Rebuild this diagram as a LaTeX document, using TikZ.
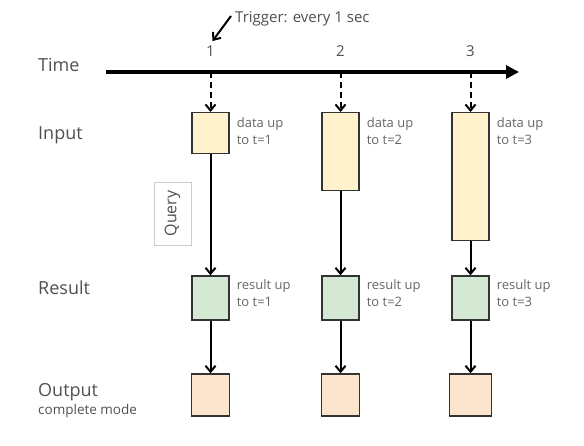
\documentclass[tikz,border=0pt]{standalone}
\usepackage{fontspec}
\setmainfont{Open Sans}
\usetikzlibrary{positioning,arrows.meta}
\definecolor{labelgray}{HTML}{505050}
\definecolor{notegray}{HTML}{666666}
\definecolor{boxline}{HTML}{333333}
\definecolor{inputfill}{HTML}{FFF2CC}
\definecolor{resultfill}{HTML}{D5E8D4}
\definecolor{outputfill}{HTML}{FCE5CD}
\tikzset{
 rowlabel/.style={font=\fontsize{18}{20}\selectfont, text=labelgray, inner sep=0pt},
 sublabel/.style={font=\fontsize{13.5}{16}\selectfont, text=labelgray, inner sep=0pt},
 ticklabel/.style={font=\fontsize{15}{18}\selectfont, text=labelgray, inner sep=0pt},
 note/.style={font=\fontsize{13}{17}\selectfont, text=notegray, align=left, inner sep=0pt},
 % boxes: only the height of the input boxes changes
 inbox/.style={draw=boxline, fill=inputfill, line width=1.4pt, minimum width=37pt, inner sep=0pt},
 resbox/.style={draw=boxline, fill=resultfill, line width=1.4pt, minimum width=37pt, minimum height=44pt, inner sep=0pt},
 outbox/.style={draw=boxline, fill=outputfill, line width=1.4pt, minimum width=38pt, minimum height=42pt, inner sep=0pt},
 querybox/.style={draw=black!20, fill=white, line width=0.9pt, rotate=90, minimum width=63pt, minimum height=37pt, font=\fontsize{16}{18}\selectfont, text=labelgray},
 axis/.style={line width=3.2pt, -{Triangle[length=13pt,width=13pt]}},
 flow/.style={line width=2pt, -{Straight Barb[length=6pt,width=10pt]}},
 trigflow/.style={flow, dash pattern=on 6pt off 4pt}
}

\begin{document}
\begin{tikzpicture}[x=1pt, y=1pt]
 \useasboundingbox (0, 0) rectangle (584, -446);

 % time axis
 \coordinate (axisstart) at (106, -72);
 \coordinate (axisend) at (519, -72);
 \draw [axis] (axisstart) -- (axisend);
 \coordinate (tick1) at (210.5, -72);
 \coordinate (tick2) at (340.5, -72);
 \coordinate (tick3) at (470.5, -72);
 \node [ticklabel, anchor=base] (num1) at (210.5, -57) {1};
 \node [ticklabel, anchor=base] (num2) at (340.5, -57) {2};
 \node [ticklabel, anchor=base] (num3) at (470.5, -57) {3};
 \node [ticklabel, anchor=base west] (trigger) at (235, -23) {Trigger: every 1 sec};
 \coordinate (trigstart) at (231, -16);
 \coordinate (trigtip) at (212.5, -41);
 \draw [flow] (trigstart) -- (trigtip);

 % row labels
 \node [rowlabel, anchor=base west] (time) at (38, -72) {Time};
 \node [rowlabel, anchor=base west] (input) at (38, -140) {Input};
 \node [rowlabel, anchor=base west] (result) at (38, -295) {Result};
 \node [rowlabel, anchor=base west] (output) at (38, -396) {Output};
 \node [sublabel, anchor=base west] (mode) at (38, -414) {complete mode};

 % input
 \node [inbox, minimum height=41pt, below=40pt of tick1] (in1) {};
 \node [inbox, minimum height=78pt, below=40pt of tick2] (in2) {};
 \node [inbox, minimum height=128pt, below=40pt of tick3] (in3) {};
 \node [note, below right=5pt and 7pt of in1.north east] (innote1) {data up\\to t=1};
 \node [note, below right=5pt and 7pt of in2.north east] (innote2) {data up\\to t=2};
 \node [note, below right=5pt and 7pt of in3.north east] (innote3) {data up\\to t=3};

 % result
 \node [resbox] (res1) at (210.5, -298) {};
 \node [resbox] (res2) at (340.5, -298) {};
 \node [resbox] (res3) at (470.5, -298) {};
 \node [note, below right=4pt and 7pt of res1.north east] (resnote1) {result up\\to t=1};
 \node [note, below right=4pt and 7pt of res2.north east] (resnote2) {result up\\to t=2};
 \node [note, below right=4pt and 7pt of res3.north east] (resnote3) {result up\\to t=3};

 % output
 \node [outbox] (out1) at (210.5, -395) {};
 \node [outbox] (out2) at (340.5, -395) {};
 \node [outbox, minimum width=42pt] (out3) at (470.5, -395) {};

 \node [querybox] (query) at (172.5, -213.5) {Query};

 \draw [trigflow] (tick1) -- (in1);
 \draw [trigflow] (tick2) -- (in2);
 \draw [trigflow] (tick3) -- (in3);
 \draw [flow] (in1) -- (res1);
 \draw [flow] (in2) -- (res2);
 \draw [flow] (in3) -- (res3);
 \draw [flow] (res1) -- (out1);
 \draw [flow] (res2) -- (out2);
 \draw [flow] (res3) -- (out3);
\end{tikzpicture}
\end{document}
